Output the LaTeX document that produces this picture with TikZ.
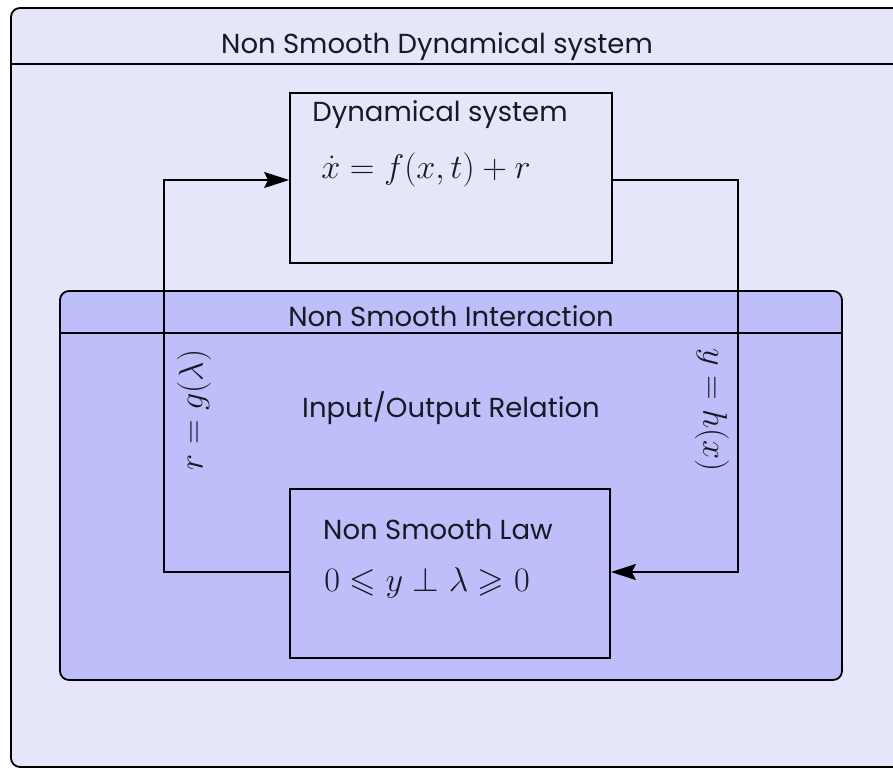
\documentclass[tikz,border=0pt]{standalone}
\usepackage{amssymb}
\usepackage{graphicx}
\usepackage{fontspec}
\setmainfont{Poppins}
\usetikzlibrary{arrows.meta}
\definecolor{outerfill}{RGB}{230,230,250}
\definecolor{innerfill}{RGB}{190,190,250}
\definecolor{ink}{RGB}{25,25,35}
\newcommand{\bigmath}[1]{\scalebox{1.65}{$#1$}}
\begin{document}
\begin{tikzpicture}[x=1pt,y=-1pt,
  frame/.style={draw=black,line width=1.8pt},
  blockbox/.style={draw=black,line width=1.8pt},
  wire/.style={draw=black,line width=1.8pt},
  arrowtip/.style={-{Stealth[length=25pt,width=16pt,inset=4pt]}},
  lbl/.style={font=\fontsize{27.5}{32}\selectfont,text=ink,inner sep=0pt},
  mth/.style={font=\fontsize{20.74}{25}\selectfont,text=ink,inner sep=0pt}]
\useasboundingbox (0,0) rectangle (893,769);
\fill[white] (0,0) rectangle (893,769);
% outer frame
\path[frame,fill=outerfill,rounded corners=9pt] (11,8) rectangle (905,767);
\draw[line width=2pt] (11,64) -- (893,64);
\node[lbl] (t1) at (437,47) {Non Smooth Dynamical system};
% inner interaction box
\path[frame,fill=innerfill,rounded corners=9pt] (60,291) rectangle (842,680);
\draw[line width=2pt] (60,333) -- (842,333);
\node[lbl] (t2) at (451,316) {Non Smooth Interaction};
\node[lbl] (t3) at (451,408) {Input/Output Relation};
% blocks
\node[blockbox,fill=outerfill,minimum width=322pt,minimum height=170pt,inner sep=0pt] (ds) at (451,178) {};
\node[lbl] (dst) at (440,115) {Dynamical system};
\node[mth] (dsm) at (426,170) {\bigmath{\dot{x} = f(x,t) + r}};
\node[blockbox,fill=innerfill,minimum width=320pt,minimum height=169pt,inner sep=0pt] (nsl) at (450,573.5) {};
\node[lbl] (nslt) at (438,529) {Non Smooth Law};
\node[mth] (nslm) at (427,583) {\bigmath{0 \leqslant y \perp \lambda \geqslant 0}};
% connectors
\coordinate (r1) at (738,180);
\coordinate (r2) at (738,572);
\coordinate (l1) at (164,572);
\coordinate (l2) at (164,180);
\draw[wire,arrowtip] (ds.east |- r1) -- (r1) -- (r2) -- (nsl.east |- r2);
\draw[wire,arrowtip] (nsl.west |- l1) -- (l1) -- (l2) -- (ds.west |- l2);
\node[mth,rotate=90] (rl) at (194,410) {\bigmath{r = g(\lambda)}};
\node[mth,rotate=-90] (yl) at (712,410) {\bigmath{y = h(x)}};
\end{tikzpicture}
\end{document}
